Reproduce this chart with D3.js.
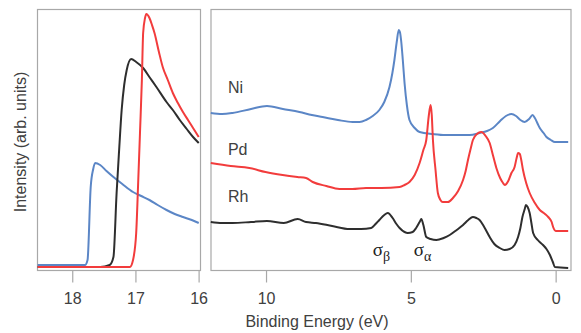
<!DOCTYPE html>
<html>
<head>
<meta charset="utf-8">
<script src="https://cdn.jsdelivr.net/npm/d3@7"></script>
<style>
  html, body { margin: 0; padding: 0; background: #fff; }
  svg { display: block; font-family: Arial, "Liberation Sans", sans-serif; }
</style>
</head>
<body>
<svg id="chart" width="581" height="333"></svg>
<script>
// intensities in arbitrary units
// left panel: secondary electron cutoff, [binding energy eV, intensity]
const cutoffNi = [[18.54,5],[17.79,5],[17.75,10],[17.70,83],[17.66,101],[17.63,107],[17.55,105],[17.45,99],[17.34,93],[17.2,86],[17.03,78],[16.9,74],[16.77,70],[16.64,65],[16.50,60],[16.37,56],[16.24,53],[16.1,50],[15.99,47]];
const cutoffRh = [[18.54,3],[17.55,3],[17.40,5],[17.34,13],[17.29,77],[17.25,120],[17.21,160],[17.17,185],[17.13,200],[17.06,211],[16.98,208],[16.87,202],[16.76,192],[16.66,183],[16.50,168],[16.4,160],[16.29,150],[16.18,141],[16.08,133],[15.99,127]];
const cutoffPd = [[18.54,3],[17.08,3],[17.03,10],[16.98,37],[16.95,85],[16.92,137],[16.89,190],[16.87,237],[16.84,252],[16.82,256],[16.77,252],[16.73,245],[16.69,237],[16.62,218],[16.56,203],[16.48,190],[16.40,177],[16.32,167],[16.24,158],[16.16,150],[16.08,142],[15.99,133]];

// right panel: valence band spectra
const vbNi = [[11.89,157],[11.5,156],[11.14,157],[10.5,161],[9.95,164],[9.4,161],[8.83,158],[8.4,155],[8.03,153],[7.5,150],[6.99,148],[6.75,148],[6.53,150],[6.3,154],[6.07,160],[5.9,168],[5.72,183],[5.62,197],[5.55,210],[5.47,228],[5.40,240],[5.36,238],[5.32,230],[5.26,210],[5.20,187],[5.12,165],[5.03,150],[4.85,142],[4.68,138],[4.22,136],[3.8,135],[3.30,135],[2.95,135],[2.61,137],[2.35,139],[2.15,142],[1.9,149],[1.7,154],[1.51,156],[1.35,154],[1.2,150],[1.05,148],[0.9,151],[0.78,155],[0.7,152],[0.6,146],[0.53,142],[0.40,137],[0.30,133],[0.15,130],[0.01,128],[-0.45,128]];
const vbPd = [[11.89,107],[11.2,104],[10.56,102],[10.0,98],[9.41,95],[8.9,93],[8.60,92],[8.37,88],[7.9,84],[7.45,81],[7.0,81],[6.53,82],[6.0,82],[5.37,83],[5.2,85],[5.03,88],[4.85,95],[4.68,107],[4.55,120],[4.45,130],[4.36,155],[4.30,165],[4.26,155],[4.22,130],[4.13,100],[4.05,77],[3.96,70],[3.88,68],[3.7,68],[3.53,72],[3.35,79],[3.18,90],[3.09,99],[3.01,110],[2.92,121],[2.84,130],[2.7,136],[2.55,138],[2.4,134],[2.26,127],[2.15,115],[2.03,102],[1.9,92],[1.80,87],[1.74,85],[1.62,89],[1.51,97],[1.40,103],[1.33,112],[1.28,117],[1.22,116],[1.17,110],[1.11,100],[1.0,87],[0.88,77],[0.7,67],[0.53,60],[0.35,56],[0.24,53],[0.12,48],[0.07,43],[-0.02,39],[-0.45,39]];
const vbRh = [[11.89,48],[11.5,47],[11.14,47],[10.5,48],[9.95,49],[9.37,47],[8.89,51],[8.6,48],[8.26,47],[7.7,44],[7.10,41],[6.7,41],[6.35,42],[6.2,46],[6.07,50],[5.9,55],[5.78,57],[5.61,52],[5.48,46],[5.37,42],[5.2,38],[5.09,37],[4.92,38],[4.80,42],[4.68,48],[4.62,51],[4.55,45],[4.45,33],[4.3,31],[4.10,30],[3.85,32],[3.64,35],[3.4,40],[3.18,45],[3.0,50],[2.84,53],[2.72,52],[2.61,50],[2.45,43],[2.26,33],[2.1,26],[1.91,22],[1.75,20],[1.57,21],[1.4,25],[1.28,33],[1.2,42],[1.13,53],[1.05,61],[1.01,65],[0.95,63],[0.88,57],[0.82,47],[0.76,37],[0.6,30],[0.42,25],[0.3,21],[0.18,15],[0.08,8],[0.01,3],[-0.45,2]];

const seriesNames = ["Ni", "Pd", "Rh"];
const leftTicks = [18, 17, 16];
const rightTicks = [10, 5, 0];

const colors = { Ni: "#5b86c6", Pd: "#f23c3c", Rh: "#2e2e2e" };

const svg = d3.select("#chart");
const plotTop = 9, plotBottom = 270;
const textColor = "#404040";
const frameColor = "#a8a8a8";
const fontSize = "16px";

const yScale = d3.scaleLinear().domain([0, 261]).range([plotBottom, plotTop]);
const xLeft = d3.scaleLinear().domain([18.55, 15.97]).range([37, 200]);
const xRight = d3.scaleLinear().domain([11.9, -0.53]).range([210.5, 570.5]);

function panel(x, ticks, data) {
    const g = svg.append("g");
    const [x0, x1] = x.range();

    g.append("rect")
        .attr("x", x0 + 0.5).attr("y", plotTop + 0.5)
        .attr("width", x1 - x0).attr("height", plotBottom - plotTop)
        .attr("fill", "none")
        .attr("stroke", frameColor)
        .attr("stroke-width", 1.2);

    const axis = g.append("g")
        .attr("transform", `translate(0.5, ${plotBottom + 0.5})`)
        .call(d3.axisBottom(x).tickValues(ticks).tickSize(12).tickPadding(10).tickFormat(d3.format("d")));
    axis.select(".domain").remove();
    axis.selectAll(".tick line").attr("stroke", frameColor).attr("stroke-width", 1.2);
    axis.selectAll(".tick text")
        .attr("fill", textColor)
        .style("font-size", fontSize)
        .style("font-family", "Arial, 'Liberation Sans', sans-serif");

    const line = d3.line()
        .x(d => x(d[0]))
        .y(d => yScale(d[1]))
        .curve(d3.curveMonotoneX);

    data.forEach(([name, pts]) => {
        g.append("path")
            .datum(pts)
            .attr("d", line)
            .attr("fill", "none")
            .attr("stroke", colors[name])
            .attr("stroke-width", 2)
            .attr("stroke-linejoin", "round");
    });
}

panel(xLeft, leftTicks, [["Ni", cutoffNi], ["Rh", cutoffRh], ["Pd", cutoffPd]]);
panel(xRight, rightTicks, [["Ni", vbNi], ["Pd", vbPd], ["Rh", vbRh]]);

// series labels in the right panel
const labelPos = { Ni: [11.3, 177], Pd: [11.3, 115], Rh: [11.3, 68] };
seriesNames.forEach(n => {
    svg.append("text")
        .attr("x", xRight(labelPos[n][0]))
        .attr("y", yScale(labelPos[n][1]))
        .attr("fill", textColor)
        .style("font-size", fontSize)
        .text(n);
});

// sigma peak labels
const sigmaLabels = [["β", 6.3], ["α", 4.88]];
sigmaLabels.forEach(([sub, e]) => {
    const t = svg.append("text")
        .attr("x", xRight(e))
        .attr("y", 256)
        .attr("fill", "#222")
        .style("font-family", "'Liberation Serif', 'DejaVu Serif', serif")
        .style("font-size", "19px");
    t.append("tspan").text("σ");
    t.append("tspan").attr("dy", 5).style("font-size", "14px").text(sub);
});

// axis titles
svg.append("text")
    .attr("x", 317).attr("y", 327)
    .attr("text-anchor", "middle")
    .attr("fill", textColor)
    .style("font-size", fontSize)
    .text("Binding Energy (eV)");

svg.append("text")
    .attr("transform", "translate(26, 142) rotate(-90)")
    .attr("text-anchor", "middle")
    .attr("fill", textColor)
    .style("font-size", fontSize)
    .text("Intensity (arb. units)");
</script>
</body>
</html>
